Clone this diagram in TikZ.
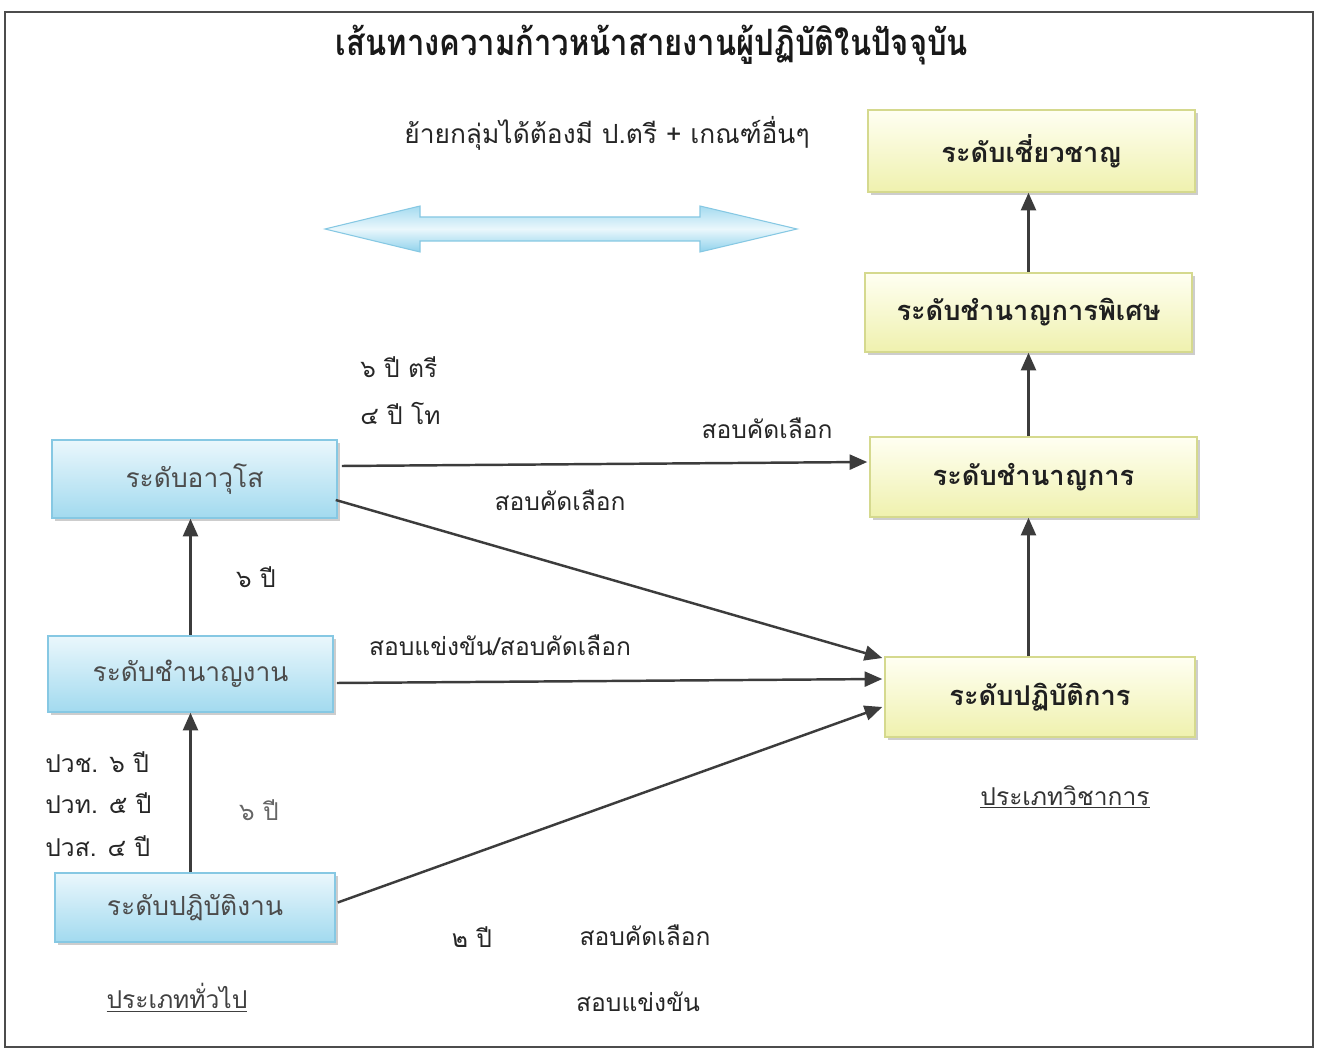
\documentclass[tikz,border=0pt]{standalone}
\usepackage{fontspec}
\setmainfont[Script=Thai]{Loma}
\usetikzlibrary{arrows.meta,shadows}
\definecolor{bluetop}{HTML}{EAF7FC}
\definecolor{bluebot}{HTML}{A2DAEF}
\definecolor{blueedge}{HTML}{86C8E3}
\definecolor{yeltop}{HTML}{FFFFF2}
\definecolor{yelbot}{HTML}{EFF1AE}
\definecolor{yeledge}{HTML}{D5D98E}
\definecolor{arrowgray}{HTML}{3C3C3C}
\definecolor{dblfill}{HTML}{8FD2EC}
\begin{document}
\begin{tikzpicture}[x=0.02cm,y=-0.02cm,
  bluebox/.style={draw=blueedge, line width=0.9pt, top color=bluetop, bottom color=bluebot,
    text=black!70, font=\fontsize{15}{18}\selectfont,
    drop shadow={shadow xshift=1.5pt, shadow yshift=-1.5pt, fill=gray!55, opacity=0.7}},
  yelbox/.style={draw=yeledge, line width=0.9pt, top color=yeltop, bottom color=yelbot,
    text=black!88, font=\fontsize{15.5}{18}\selectfont\bfseries,
    drop shadow={shadow xshift=1.5pt, shadow yshift=-1.5pt, fill=gray!55, opacity=0.7}},
  lbl/.style={font=\fontsize{14}{17}\selectfont, text=black!85, inner sep=0pt},
  arr/.style={draw=arrowgray, line width=1.4pt, -{Triangle[length=10pt,width=8.5pt]}, arrowgray}
]
\useasboundingbox (0,0) rectangle (1319,1053);
\fill[white] (0,0) rectangle (1319,1053);
% frame
\draw[black!70, line width=1.1pt] (5,12) rectangle (1313,1047);

% title and subtitle
\node[font=\fontsize{18}{22}\selectfont\bfseries, text=black!90] (title) at (652,45) {\scalebox{0.98}[1.15]{เส้นทางความก้าวหน้าสายงานผู้ปฏิบัติในปัจจุบัน}};
\node[lbl, font=\fontsize{15}{18}\selectfont] (sub) at (607,133) {ย้ายกลุ่มได้ต้องมี ป.ตรี + เกณฑ์อื่นๆ};

% double arrow
\path[draw=blueedge, line width=0.6pt, top color=dblfill!80, bottom color=dblfill, middle color=bluetop]
  (325,229) -- (420,206) -- (420,217) -- (700,217) -- (700,206) -- (797,229)
  -- (700,252) -- (700,241) -- (420,241) -- (420,252) -- cycle;

% right column boxes
\node[yelbox, minimum width=6.54cm, minimum height=1.64cm] (r1) at (1031.5,151) {ระดับเชี่ยวชาญ};
\node[yelbox, minimum width=6.54cm, minimum height=1.58cm] (r2) at (1028.5,312.5) {ระดับชำนาญการพิเศษ};
\node[yelbox, minimum width=6.54cm, minimum height=1.60cm] (r3) at (1033.5,477) {ระดับชำนาญการ};
\node[yelbox, minimum width=6.2cm, minimum height=1.60cm] (r4) at (1040,697) {ระดับปฏิบัติการ};

% left column boxes
\node[bluebox, minimum width=5.7cm, minimum height=1.56cm] (bA) at (194.5,479) {ระดับอาวุโส};
\node[bluebox, minimum width=5.7cm, minimum height=1.52cm] (bB) at (190.5,674) {ระดับชำนาญงาน};
\node[bluebox, minimum width=5.6cm, minimum height=1.38cm] (bC) at (195,907.5) {ระดับปฎิบัติงาน};

% vertical arrows
\draw[arr] (bB.north) -- (bB.north |- bA.south);
\draw[arr] (bB.south |- bC.north) -- (bB.south);
\draw[arr] (r2.north) -- (r2.north |- r1.south);
\draw[arr] (r2.south |- r3.north) -- (r2.south);
\draw[arr] (r2.south |- r4.north) -- (r2.south |- r3.south);

% cross arrows
\draw[arr] ([shift={(4,-13)}]bA.east) -- ([shift={(-2,-15)}]r3.west);
\draw[arr] ([shift={(-2,21)}]bA.east) -- ([shift={(-2,-39)}]r4.west);
\draw[arr] ([shift={(3,9)}]bB.east) -- ([shift={(-2,-18)}]r4.west);
\draw[arr] ([shift={(2,-5)}]bC.east) -- ([shift={(-2,10)}]r4.west);

% labels
\node[lbl, anchor=west] (t1) at (360,367) {๖ ปี ตรี};
\node[lbl, anchor=west] (t2) at (360,413) {๔ ปี โท};
\node[lbl] (s1) at (767,428) {สอบคัดเลือก};
\node[lbl] (s2) at (560,500) {สอบคัดเลือก};
\node[lbl] (s3) at (500,645) {สอบแข่งขัน/สอบคัดเลือก};
\node[lbl] (y1) at (256,577) {๖ ปี};
\node[lbl, anchor=west] (p1) at (45,762) {ปวช. ๖ ปี};
\node[lbl, anchor=west] (p2) at (45,803) {ปวท. ๕ ปี};
\node[lbl, anchor=west] (p3) at (45,846) {ปวส. ๔ ปี};
\node[lbl, text=black!60] (y2) at (259,810) {๖ ปี};
\node[lbl] (y3) at (472,937) {๒ ปี};
\node[lbl] (s4) at (645,935) {สอบคัดเลือก};
\node[lbl] (s5) at (638,1002) {สอบแข่งขัน};
\node[lbl, text=black!75] (g1) at (177,998) {\underline{ประเภททั่วไป}};
\node[lbl, text=black!80] (g2) at (1065,797) {\underline{ประเภทวิชาการ}};
\end{tikzpicture}
\end{document}
